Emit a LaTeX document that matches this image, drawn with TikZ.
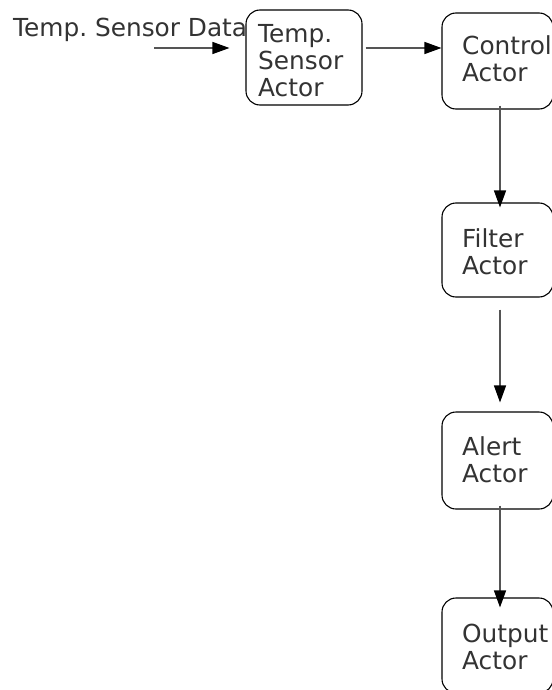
\documentclass[tikz,border=0pt]{standalone}
\usepackage{fontspec}
\setmainfont{DejaVu Sans}
\usetikzlibrary{arrows.meta}
\definecolor{ink}{HTML}{333333}
\definecolor{wire}{HTML}{555555}
\frenchspacing
\begin{document}
\begin{tikzpicture}[x=1pt,y=-1pt,
  actor/.style={draw=black, line width=1.1pt, rounded corners=14pt, inner sep=0pt},
  caption/.style={text=ink, font=\fontsize{24.8}{27}\selectfont, align=left, inner sep=0pt, anchor=north west},
  flow/.style={draw=wire, line width=1.3pt, -{Triangle[length=17pt,width=12pt,color=black]}}]
\useasboundingbox (0,0) rectangle (551,690);

% actor boxes
\node[actor, minimum width=116pt, minimum height=95pt] (tsa) at (304,57.5) {};
\node[actor, minimum width=111pt, minimum height=96pt] (ctl) at (497.5,61) {};
\node[actor, minimum width=111pt, minimum height=94pt] (flt) at (497.5,250) {};
\node[actor, minimum width=111pt, minimum height=97pt] (alt) at (497.5,460.5) {};
\node[actor, minimum width=111pt, minimum height=95pt] (outp) at (497.5,645.5) {};

% labels
\node[caption, anchor=base west] (inlbl) at (13,37) {Temp. Sensor Data};
\node[caption] (tsatxt) at (258,24.5) {Temp.\\Sensor\\Actor};
\node[caption] (ctltxt) at (462,35) {Control\\Actor};
\node[caption] (flttxt) at (462,228) {Filter\\Actor};
\node[caption] (alttxt) at (462,436) {Alert\\Actor};
\node[caption] (outtxt) at (462,624) {Output\\Actor};

% connectors
\coordinate (src) at (154,48);
\coordinate (col) at (500,0);
\draw[flow, shorten >=16pt] (src) -- (src -| tsa.west);
\draw[flow, shorten <=3pt] (tsa.east |- src) -- (ctl.west |- src);
\draw[flow, shorten <=-4pt, shorten >=-5pt] (ctl.south -| col) -- (flt.north -| col);
\draw[flow, shorten <=12pt, shorten >=9pt] (flt.south -| col) -- (alt.north -| col);
\draw[flow, shorten <=-4pt, shorten >=-10pt] (alt.south -| col) -- (outp.north -| col);
\end{tikzpicture}
\end{document}
